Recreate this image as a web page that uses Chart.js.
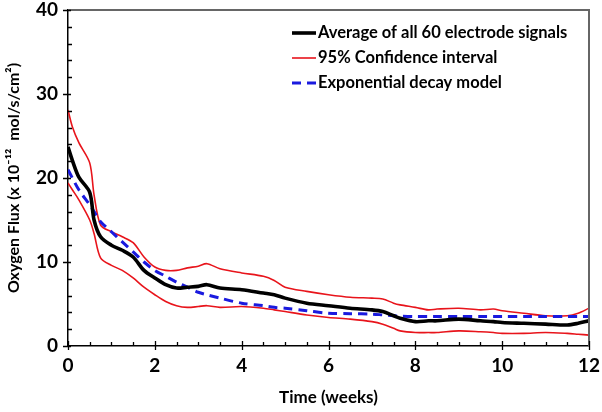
<!DOCTYPE html>
<html>
<head>
<meta charset="utf-8">
<script src="https://cdn.jsdelivr.net/npm/chart.js@4.4.1/dist/chart.umd.min.js"></script>
<style>
  html, body { margin: 0; padding: 0; background: #fff; }
  #wrap { width: 602px; height: 412px; position: relative; }
</style>
</head>
<body>
<div id="wrap"><canvas id="fluxChart" width="602" height="412"></canvas></div>
<script>
// time grid in weeks, shared by every series
const weeks = [0, 0.1, 0.25, 0.5, 0.6, 0.75, 1, 1.25, 1.5, 1.75, 2, 2.25, 2.5, 2.75, 3, 3.2, 3.5, 4, 4.5, 4.75,
  5, 5.5, 6, 6.5, 7, 7.25, 7.5, 7.65, 8, 8.3, 8.5, 9, 9.5, 9.8, 10, 10.5, 11, 11.5, 11.75, 12];

const avgFlux = [23.7, 22.1, 20.1, 18.3, 15.0, 13.0, 12.0, 11.4, 10.6, 9.0, 8.1, 7.3, 6.9, 7.0, 7.1, 7.3, 6.9, 6.7, 6.3, 6.1,
  5.7, 5.1, 4.8, 4.5, 4.3, 4.1, 3.6, 3.3, 2.9, 3.0, 3.0, 3.2, 3.0, 2.9, 2.8, 2.7, 2.6, 2.5, 2.7, 3.0];
const upperCI = [28.1, 26.1, 24.2, 21.8, 18.0, 14.4, 13.6, 13.0, 12.3, 10.6, 9.4, 9.0, 9.0, 9.3, 9.5, 9.8, 9.2, 8.7, 8.3, 7.8,
  7.0, 6.5, 6.1, 5.8, 5.7, 5.6, 5.1, 4.9, 4.6, 4.3, 4.4, 4.5, 4.3, 4.4, 4.2, 3.9, 3.6, 3.6, 3.9, 4.5];
const lowerCI = [19.4, 18.6, 17.4, 15.0, 13.4, 10.5, 9.6, 9.0, 8.1, 7.0, 6.1, 5.3, 4.8, 4.6, 4.7, 4.8, 4.6, 4.7, 4.5, 4.3,
  4.1, 3.7, 3.4, 3.2, 2.9, 2.6, 2.1, 1.8, 1.6, 1.6, 1.6, 1.8, 1.7, 1.6, 1.5, 1.5, 1.6, 1.5, 1.4, 1.3];
const modelFlux = [21.0, 20.0, 18.6, 16.8, 16.0, 14.8, 13.6, 12.4, 11.2, 10.0, 9.0, 8.3, 7.6, 7.0, 6.4, 6.1, 5.7, 5.1, 4.8, 4.6,
  4.5, 4.2, 3.9, 3.85, 3.8, 3.7, 3.6, 3.55, 3.5, 3.5, 3.5, 3.5, 3.5, 3.5, 3.5, 3.5, 3.5, 3.5, 3.5, 3.5];

const xTicks = [0, 2, 4, 6, 8, 10, 12];
const yTicks = [0, 10, 20, 30, 40];

const labelFont = 'Lato, "Open Sans", sans-serif';
const pts = arr => arr.map((v, i) => ({ x: weeks[i], y: v }));

// grey frame (top + right) and tick marks: majors cross the axis, minors point inward
const tickPlugin = {
  id: 'tickMarks',
  afterDraw(chart) {
    const { ctx, chartArea: a, scales: { x, y } } = chart;
    const top = Math.round(y.getPixelForValue(40));
    const right = Math.round(x.getPixelForValue(12));
    const bottom = Math.round(y.getPixelForValue(0));
    const left = Math.round(x.getPixelForValue(0));
    ctx.save();
    ctx.setLineDash([]);
    ctx.fillStyle = '#666';
    ctx.fillRect(left, top - 1, right - left + 1, 2);
    ctx.fillRect(right - 1, top - 1, 2, bottom - top + 1);

    ctx.strokeStyle = '#000';
    ctx.lineWidth = 1.3;
    ctx.beginPath();
    for (let t = 0; t <= 12.001; t += 0.5) {
      const px = Math.round(x.getPixelForValue(t)) + 0.5;
      const major = Math.abs(t % 2) < 0.01;
      ctx.moveTo(px, a.bottom + (major ? 4 : 0));
      ctx.lineTo(px, a.bottom - (major ? 5 : 4));
    }
    for (let v = 0; v <= 40.001; v += 2) {
      const py = Math.round(y.getPixelForValue(v)) + 0.5;
      const major = v % 10 === 0;
      ctx.moveTo(a.left - (major ? 5 : 0), py);
      ctx.lineTo(a.left + (major ? 3 : 4), py);
    }
    ctx.stroke();
    ctx.restore();
  }
};

// legend drawn inside the plot, top right
const legendPlugin = {
  id: 'boxLegend',
  afterDraw(chart) {
    const { ctx } = chart;
    const items = chart.data.datasets.filter(d => d.inLegend);
    ctx.save();
    ctx.font = 'bold 16.5px ' + labelFont;
    ctx.textBaseline = 'middle';
    items.forEach((d, i) => {
      const yy = 33 + i * 25;
      ctx.strokeStyle = d.borderColor;
      ctx.lineWidth = d.borderWidth;
      ctx.setLineDash(d.borderDash || []);
      ctx.beginPath();
      ctx.moveTo(292, yy);
      ctx.lineTo(316, yy);
      ctx.stroke();
      ctx.setLineDash([]);
      ctx.fillStyle = '#000';
      ctx.fillText(d.label, 318, yy);
    });
    ctx.restore();
  }
};

new Chart(document.getElementById('fluxChart'), {
  type: 'line',
  data: {
    datasets: [
      {
        label: 'Average of all 60 electrode signals', data: pts(avgFlux), inLegend: true, order: 0,
        borderColor: '#000', borderWidth: 3.6, pointRadius: 0, tension: 0.3
      },
      {
        label: '95% Confidence interval', data: pts(upperCI), inLegend: true, order: 2,
        borderColor: '#e8141b', borderWidth: 1.6, pointRadius: 0, tension: 0.3
      },
      {
        label: 'Exponential decay model', data: pts(modelFlux), inLegend: true, order: 1,
        borderColor: '#1a1adf', borderWidth: 3, borderDash: [9, 6], pointRadius: 0, tension: 0.3
      },
      {
        label: '95% Confidence interval (lower)', data: pts(lowerCI), inLegend: false, order: 2,
        borderColor: '#e8141b', borderWidth: 1.6, pointRadius: 0, tension: 0.3
      }
    ]
  },
  options: {
    responsive: false,
    animation: false,
    layout: { padding: { left: 0, right: 13, top: 10, bottom: 0 } },
    plugins: { legend: { display: false }, tooltip: { enabled: false } },
    scales: {
      x: {
        type: 'linear', min: 0, max: 12,
        afterBuildTicks: s => { s.ticks = xTicks.map(v => ({ value: v })); },
        afterFit: s => { s.height = 66; s.paddingLeft = 0; s.paddingRight = 0; },
        grid: { display: false, drawTicks: false },
        border: { display: true, color: '#000', width: 1.5 },
        ticks: { color: '#000', font: { family: labelFont, weight: 'bold', size: 19 }, padding: 8, maxRotation: 0 },
        title: { display: true, text: 'Time (weeks)', color: '#000', font: { family: labelFont, weight: 'bold', size: 17 }, padding: { top: 0 } }
      },
      y: {
        min: 0, max: 40,
        afterBuildTicks: s => { s.ticks = yTicks.map(v => ({ value: v })); },
        afterFit: s => { s.width = 68; s.paddingTop = 0; s.paddingBottom = 0; },
        grid: { display: false, drawTicks: false },
        border: { display: true, color: '#000', width: 1.5 },
        ticks: { color: '#000', font: { family: labelFont, weight: 'bold', size: 19 }, padding: 10 },
        title: { display: true, text: 'Oxygen Flux (x 10\u207B\u00B9\u00B2  mol/s/cm\u00B2)', color: '#000', font: { family: labelFont, weight: 'bold', size: 16 }, padding: { bottom: 2 } }
      }
    }
  },
  plugins: [tickPlugin, legendPlugin]
});
</script>
</body>
</html>
